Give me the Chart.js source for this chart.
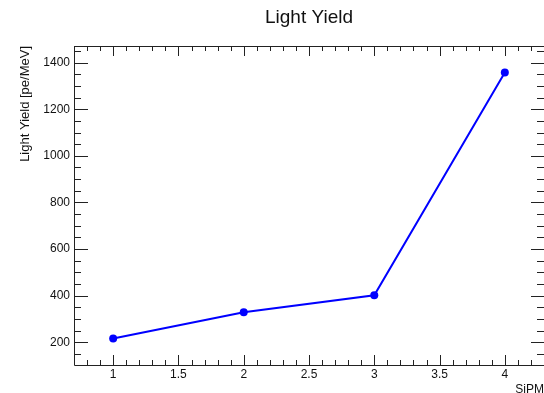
<!DOCTYPE html>
<html>
<head>
<meta charset="utf-8">
<script src="https://cdn.jsdelivr.net/npm/chart.js@4/dist/chart.umd.min.js"></script>
<style>
  html, body { margin: 0; padding: 0; background: #fff; }
  canvas { display: block; }
</style>
</head>
<body>
<canvas id="c" width="544" height="393"></canvas>
<script>
// SiPM index and measured light yield
const sipm = [1, 2, 3, 4];
const lightYield = [217, 329, 402, 1357];

// Axis tick labels
const xTickVals = [1, 1.5, 2, 2.5, 3, 3.5, 4];
const yTickVals = [200, 400, 600, 800, 1000, 1200, 1400];

const FONT = "'Liberation Sans', Arial, Helvetica, sans-serif";

// ROOT-style frame with inward ticks on all four sides
const frameTicks = {
  id: 'frameTicks',
  afterDraw(chart) {
    const { ctx, chartArea: a, scales: { x, y } } = chart;
    ctx.save();
    ctx.strokeStyle = '#222';
    ctx.lineWidth = 1;
    ctx.beginPath();
    ctx.rect(Math.round(a.left) + 0.5, Math.round(a.top) + 0.5,
             Math.round(a.right - a.left), Math.round(a.bottom - a.top));
    ctx.stroke();

    ctx.beginPath();
    // x ticks: minor every 0.1, major every 0.5
    for (let i = Math.ceil(x.min * 10 - 1e-6); i <= Math.floor(x.max * 10 + 1e-6); i++) {
      const v = i / 10;
      const major = i % 5 === 0;
      const px = Math.round(x.getPixelForValue(v)) + 0.5;
      const len = major ? 10 : 5;
      ctx.moveTo(px, a.bottom); ctx.lineTo(px, a.bottom - len);
      ctx.moveTo(px, a.top); ctx.lineTo(px, a.top + len);
    }
    // y ticks: minor every 50, major every 200
    for (let v = Math.ceil(y.min / 50) * 50; v <= y.max; v += 50) {
      const major = v % 200 === 0;
      const py = Math.round(y.getPixelForValue(v)) + 0.5;
      ctx.moveTo(a.left, py); ctx.lineTo(a.left + (major ? 14 : 7), py);
      ctx.moveTo(a.right, py); ctx.lineTo(a.right - (major ? 13 : 7), py);
    }
    ctx.stroke();

    // plot title, centred over the frame
    ctx.fillStyle = '#111';
    ctx.font = `19px ${FONT}`;
    ctx.textAlign = 'center';
    ctx.textBaseline = 'middle';
    ctx.fillText('Light Yield', (a.left + a.right) / 2, 18);
    ctx.restore();
  }
};

new Chart(document.getElementById('c'), {
  type: 'scatter',
  data: {
    datasets: [{
      data: sipm.map((s, i) => ({ x: s, y: lightYield[i] })),
      showLine: true,
      borderColor: '#0000ff',
      backgroundColor: '#0000ff',
      borderWidth: 2,
      pointRadius: 4,
      pointHoverRadius: 4,
      pointBorderWidth: 0,
      tension: 0
    }]
  },
  options: {
    responsive: false,
    animation: false,
    events: [],
    layout: { autoPadding: false, padding: { top: 46, left: 0, right: 0, bottom: 0 } },
    plugins: {
      legend: { display: false },
      title: { display: false },
      tooltip: { enabled: false }
    },
    scales: {
      x: {
        type: 'linear',
        min: 0.7,
        max: 4.3,
        grid: { display: false, drawTicks: false },
        border: { display: false },
        afterBuildTicks: s => { s.ticks = xTickVals.map(v => ({ value: v })); },
        afterFit: s => { s.height = 28; s.paddingLeft = 0; s.paddingRight = 0; },
        ticks: {
          padding: 2,
          color: '#111',
          maxRotation: 0,
          autoSkip: false,
          font: { family: FONT, size: 12 },
          callback: v => String(v)
        },
        title: {
          display: true,
          text: 'SiPM',
          align: 'end',
          color: '#111',
          padding: 0,
          font: { family: FONT, size: 12, lineHeight: 0.6 }
        }
      },
      y: {
        type: 'linear',
        min: 103,
        max: 1471,
        grid: { display: false, drawTicks: false },
        border: { display: false },
        afterBuildTicks: s => { s.ticks = yTickVals.map(v => ({ value: v })); },
        afterFit: s => { s.width = 74; s.paddingTop = 0; s.paddingBottom = 0; },
        ticks: {
          padding: 4,
          color: '#111',
          autoSkip: false,
          font: { family: FONT, size: 12 },
          callback: v => String(v)
        },
        title: {
          display: true,
          text: 'Light Yield [pe/MeV]',
          align: 'end',
          color: '#111',
          padding: { top: 18, bottom: 0 },
          font: { family: FONT, size: 13 }
        }
      }
    }
  },
  plugins: [frameTicks]
});
</script>
</body>
</html>
